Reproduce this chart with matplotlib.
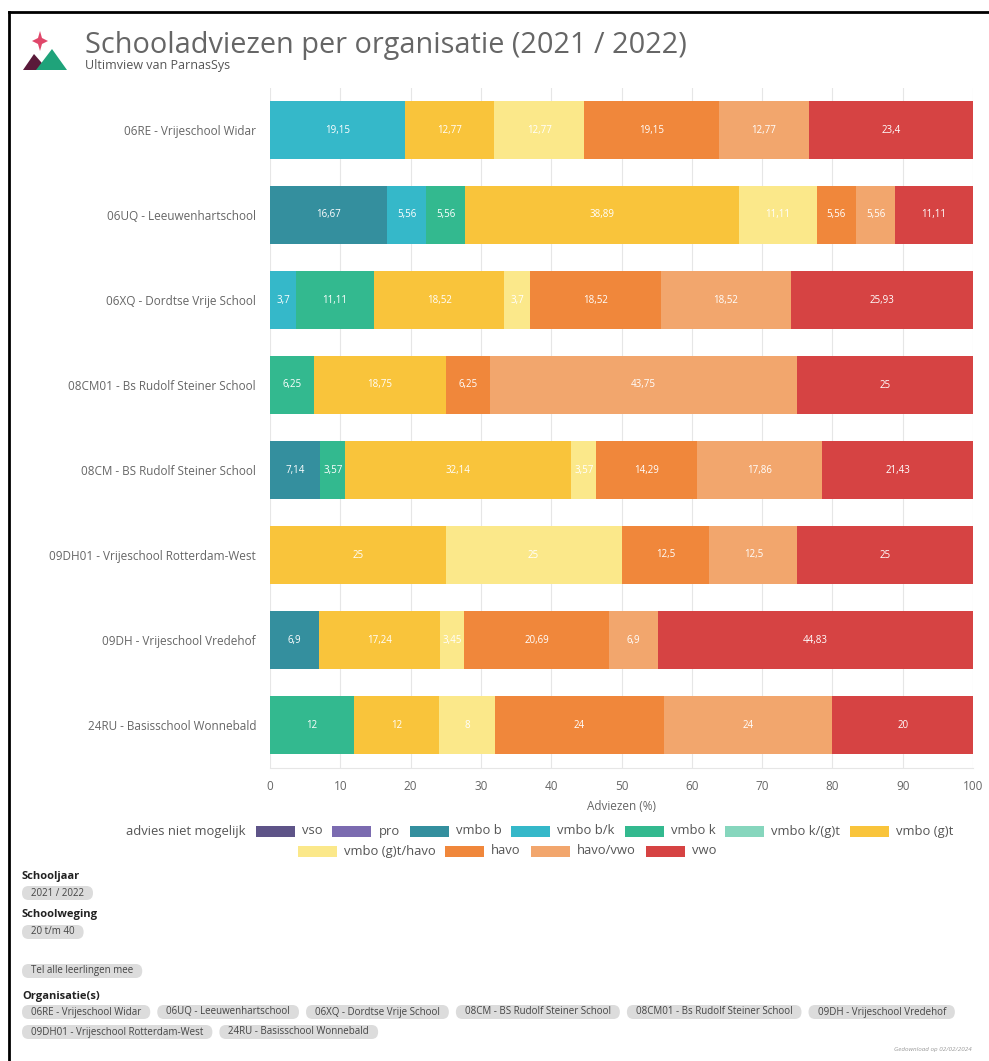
import numpy as np
import matplotlib
matplotlib.use("Agg")
import matplotlib.pyplot as plt
from matplotlib.patches import Rectangle, Polygon, FancyBboxPatch
from matplotlib.lines import Line2D

plt.rcParams['font.family'] = ['Open Sans', 'DejaVu Sans']

W, H = 989, 1061

# categories (legend order)
categories = ['advies niet mogelijk', 'vso', 'pro', 'vmbo b', 'vmbo b/k', 'vmbo k',
              'vmbo k/(g)t', 'vmbo (g)t', 'vmbo (g)t/havo', 'havo', 'havo/vwo', 'vwo']
colors = ['#ffffff', '#5e5488', '#7b6bb0', '#348f9e', '#35b8c9', '#33b98f',
          '#86d6bd', '#f9c43b', '#fbe88a', '#f0873b', '#f2a66d', '#d64343']

schools = ['06RE - Vrijeschool Widar', '06UQ - Leeuwenhartschool', '06XQ - Dordtse Vrije School',
           '08CM01 - Bs Rudolf Steiner School', '08CM - BS Rudolf Steiner School',
           '09DH01 - Vrijeschool Rotterdam-West', '09DH - Vrijeschool Vredehof',
           '24RU - Basisschool Wonnebald']

# percentages per category, one list per school
#            anm  vso pro  b      b/k    k      k/gt  gt     gt/havo havo   havo/vwo vwo
s_06RE   = [0, 0, 0, 0,     19.15, 0,     0, 12.77, 12.77, 19.15, 12.77, 23.4]
s_06UQ   = [0, 0, 0, 16.67, 5.56,  5.56,  0, 38.89, 11.11, 5.56,  5.56,  11.11]
s_06XQ   = [0, 0, 0, 0,     3.7,   11.11, 0, 18.52, 3.7,   18.52, 18.52, 25.93]
s_08CM01 = [0, 0, 0, 0,     0,     6.25,  0, 18.75, 0,     6.25,  43.75, 25]
s_08CM   = [0, 0, 0, 7.14,  0,     3.57,  0, 32.14, 3.57,  14.29, 17.86, 21.43]
s_09DH01 = [0, 0, 0, 0,     0,     0,     0, 25,    25,    12.5,  12.5,  25]
s_09DH   = [0, 0, 0, 6.9,   0,     0,     0, 17.24, 3.45,  20.69, 6.9,   44.83]
s_24RU   = [0, 0, 0, 0,     0,     12,    0, 12,    8,     24,    24,    20]

data = np.array([s_06RE, s_06UQ, s_06XQ, s_08CM01, s_08CM, s_09DH01, s_09DH, s_24RU])

filter_year = '2021 / 2022'
filter_weight = '20 t/m 40'
filter_count = 'Tel alle leerlingen mee'
filter_orgs = ['06RE - Vrijeschool Widar', '06UQ - Leeuwenhartschool', '06XQ - Dordtse Vrije School',
               '08CM - BS Rudolf Steiner School', '08CM01 - Bs Rudolf Steiner School',
               '09DH - Vrijeschool Vredehof', '09DH01 - Vrijeschool Rotterdam-West',
               '24RU - Basisschool Wonnebald']


def fx(x):
    return x / W


def fy(y):
    return 1 - y / H


fig = plt.figure(figsize=(W / 100, H / 100), dpi=100)
renderer = fig.canvas.get_renderer()

# main chart
ax = fig.add_axes([fx(270), fy(767.5), fx(973) - fx(270), fy(87.5) - fy(767.5)])
y = np.arange(len(schools))
left = np.zeros(len(schools))
for j, cat in enumerate(categories):
    vals = data[:, j]
    ax.barh(y, vals, left=left, height=0.69, color=colors[j], zorder=2)
    for i, v in enumerate(vals):
        if v > 0:
            ax.text(left[i] + v / 2, y[i], f"{v:g}".replace('.', ','), ha='center', va='center',
                    color='white', fontsize=7, zorder=3)
    left += vals

ax.set_xlim(0, 100)
ax.set_ylim(len(schools) - 0.5, -0.5)
ax.set_xticks(np.arange(0, 101, 10))
ax.set_yticks(y)
ax.set_yticklabels(schools)
ax.grid(axis='x', color='#e6e6e6', linewidth=0.8, zorder=0)
for s in ['top', 'right', 'left']:
    ax.spines[s].set_visible(False)
ax.spines['bottom'].set_color('#e6e6e6')
ax.tick_params(axis='both', length=0, colors='#666666')
ax.tick_params(axis='x', labelsize=8.5, pad=9)
ax.tick_params(axis='y', labelsize=8.5, pad=10)
ax.set_xlabel('Adviezen (%)', color='#666666', fontsize=8.5, labelpad=5)

# header
fig.text(fx(85), fy(46), 'Schooladviezen per organisatie (2021 / 2022)', fontsize=20.8,
         color='#666666', va='center', ha='left')
fig.text(fx(85), fy(66), 'Ultimview van ParnasSys', fontsize=9, color='#555555',
         va='center', ha='left')

# logo
fig.patches.append(Polygon([(fx(40), fy(31)), (fx(42), fy(38)), (fx(48), fy(41)), (fx(42), fy(44)),
                            (fx(40), fy(51)), (fx(38), fy(44)), (fx(32), fy(41)), (fx(38), fy(38))],
                           closed=True, transform=fig.transFigure, fc='#e0476a', ec='none'))
fig.patches.append(Polygon([(fx(23), fy(70)), (fx(34), fy(54)), (fx(48), fy(70))],
                           closed=True, transform=fig.transFigure, fc='#5a1a3a', ec='none'))
fig.patches.append(Polygon([(fx(36), fy(70)), (fx(52), fy(49)), (fx(67), fy(70))],
                           closed=True, transform=fig.transFigure, fc='#1fa37a', ec='none'))

# frame lines
fig.lines.append(Line2D([fx(9), 1], [fy(12), fy(12)], transform=fig.transFigure, color='black', lw=2))
fig.lines.append(Line2D([fx(9), fx(9)], [fy(12), 0], transform=fig.transFigure, color='black', lw=2))

# legend, laid out by hand (rows like the web legend)
leg_size = 9.4
sw_w, sw_h = 39, 11


def text_width(s, size, weight='normal'):
    t = fig.text(0, 0, s, fontsize=size, fontweight=weight)
    w = t.get_window_extent(renderer).width
    t.remove()
    return w


rows = [(list(range(0, 8)), 831, 540), (list(range(8, 12)), 851, 507)]
for idx, ypix, center in rows:
    widths = []
    for k in idx:
        tw = text_width(categories[k], leg_size)
        sw = 0 if k == 0 else sw_w + 7
        widths.append((sw, tw))
    total = sum(a + b for a, b in widths) + 10 * (len(idx) - 1)
    x = center - total / 2
    for k, (sw, tw) in zip(idx, widths):
        if sw:
            fig.patches.append(Rectangle((fx(x), fy(ypix + sw_h / 2)), fx(sw_w), sw_h / H,
                                         transform=fig.transFigure, fc=colors[k], ec='none'))
            x += sw
        fig.text(fx(x), fy(ypix), categories[k], fontsize=leg_size, color='#555555',
                 va='center', ha='left')
        x += tw + 10


# filter section
pill_size = 7.0
pill_h = 14
pill_pad = 9


def pill(xpix, ypix, s):
    tw = text_width(s, pill_size)
    pw = tw + 2 * pill_pad
    fig.patches.append(FancyBboxPatch((fx(xpix), fy(ypix + pill_h / 2)), fx(pw), pill_h / H,
                                      boxstyle=f'round,pad=0,rounding_size={pill_h / 2 / H}',
                                      transform=fig.transFigure, fc='#dcdcdc', ec='none'))
    fig.text(fx(xpix + pill_pad), fy(ypix), s, fontsize=pill_size, color='#444444',
             va='center', ha='left')
    return xpix + pw


def header(ypix, s):
    fig.text(fx(22), fy(ypix), s, fontsize=8, fontweight='bold', color='#222222',
             va='center', ha='left')


header(876, 'Schooljaar')
pill(22, 893, filter_year)
header(915, 'Schoolweging')
pill(22, 932, filter_weight)
pill(22, 971, filter_count)
header(996, 'Organisatie(s)')

xp = 22
rowy = 1012
for name in filter_orgs:
    w = text_width(name, pill_size) + 2 * pill_pad
    if xp + w > 982:
        xp = 22
        rowy += 20
    xp = pill(xp, rowy, name) + 7

fig.text(fx(972), fy(1050), 'Gedownload op 02/02/2024', fontsize=4.5, style='italic',
         color='#999999', va='center', ha='right')

fig.savefig('out.png', dpi=100, facecolor='white')
